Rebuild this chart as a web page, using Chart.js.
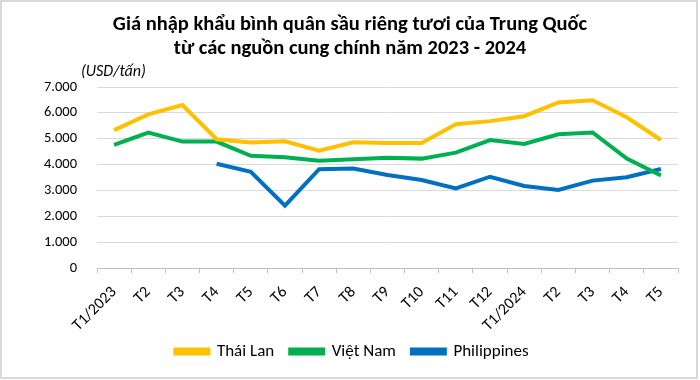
<!DOCTYPE html>
<html>
<head>
<meta charset="utf-8">
<script src="https://cdn.jsdelivr.net/npm/chart.js@4.4.1/dist/chart.umd.min.js"></script>
<style>
html,body{margin:0;padding:0;background:#fff;}
#wrap{position:relative;width:700px;height:380px;}
</style>
</head>
<body>
<div id="wrap"><canvas id="c" width="700" height="380"></canvas></div>
<script>
const categories = ["T1/2023","T2","T3","T4","T5","T6","T7","T8","T9","T10","T11","T12","T1/2024","T2","T3","T4","T5"];
const thaiLan = [5330,5940,6300,4980,4850,4900,4540,4860,4830,4830,5560,5680,5870,6400,6490,5830,4950];
const vietNam = [4760,5240,4890,4890,4340,4280,4150,4210,4260,4230,4460,4950,4800,5170,5240,4230,3580];
const philippines = [null,null,null,4030,3720,2410,3820,3850,3600,3400,3080,3530,3170,3020,3380,3510,3830];
const yTicks = [0,1000,2000,3000,4000,5000,6000,7000];
const titleLines = ["Giá nhập khẩu bình quân sầu riêng tươi của Trung Quốc","từ các nguồn cung chính năm 2023 - 2024"];
const unitLabel = "(USD/tấn)";

const FONT = "Carlito, Lato, sans-serif";
const LEGEND_H = 45;
const LEGEND_TOP = 327;

const decor = {
  id:'decor',
  beforeLayout(chart){
    const lg = chart.legend;
    if (lg && !lg._patched){
      const f = lg.fit;
      lg.fit = function(){ f.call(this); this.height = LEGEND_H; };
      lg._patched = true;
    }
  },
  afterLayout(chart){
    const lg = chart.legend;
    if (lg){
      lg.top = LEGEND_TOP; lg.bottom = LEGEND_TOP + LEGEND_H;
      lg.left = 0; lg.right = 704;
    }
  },
  afterDraw(chart){
    const ctx = chart.ctx;
    ctx.save();
    ctx.fillStyle = '#000';
    ctx.textAlign = 'center';
    ctx.textBaseline = 'middle';
    ctx.font = "bold 20.5px " + FONT;
    ctx.fillText(titleLines[0], 350, 25);
    ctx.fillText(titleLines[1], 350, 49);
    ctx.font = "italic 16px " + FONT;
    ctx.textAlign = 'left';
    ctx.fillText(unitLabel, 81, 72);
    ctx.strokeStyle = '#d9d9d9';
    ctx.lineWidth = 2;
    ctx.strokeRect(1,1,696,377);
    ctx.restore();
  }
};

new Chart(document.getElementById('c'), {
  type:'line',
  data:{
    labels:categories,
    datasets:[
      {label:'Thái Lan', data:thaiLan, borderColor:'#FFC000', backgroundColor:'#FFC000', borderWidth:4, pointRadius:0, tension:0},
      {label:'Việt Nam', data:vietNam, borderColor:'#00B050', backgroundColor:'#00B050', borderWidth:4, pointRadius:0, tension:0},
      {label:'Philippines', data:philippines, borderColor:'#0070C0', backgroundColor:'#0070C0', borderWidth:4, pointRadius:0, tension:0}
    ]
  },
  options:{
    responsive:false,
    animation:false,
    devicePixelRatio:1,
    layout:{padding:{top:87,left:0,right:22,bottom:0}},
    plugins:{
      title:{display:false},
      tooltip:{enabled:false},
      legend:{
        position:'bottom',
        labels:{boxWidth:33,boxHeight:4,padding:16,color:'#000',font:{family:FONT,size:17}}
      }
    },
    scales:{
      x:{
        offset:true,
        grid:{display:true,drawOnChartArea:false,drawTicks:true,tickLength:5,color:'#bfbfbf',offset:true},
        border:{display:true,color:'#bfbfbf',width:1},
        ticks:{color:'#000',font:{family:FONT,size:16},minRotation:45,maxRotation:45,autoSkip:false,padding:10,labelOffset:0},
        afterFit(s){ s.height = 67; }
      },
      y:{
        min:0,max:7000,
        afterBuildTicks(s){ s.ticks = yTicks.map(v=>({value:v})); },
        grid:{color:'#d9d9d9',drawTicks:false,lineWidth:1},
        border:{display:false},
        ticks:{color:'#000',font:{family:FONT,size:14.5},padding:20,
          callback:(v)=>v.toLocaleString('de-DE')},
        afterFit(s){ s.width = 97; }
      }
    }
  },
  plugins:[decor]
});
</script>
</body>
</html>
